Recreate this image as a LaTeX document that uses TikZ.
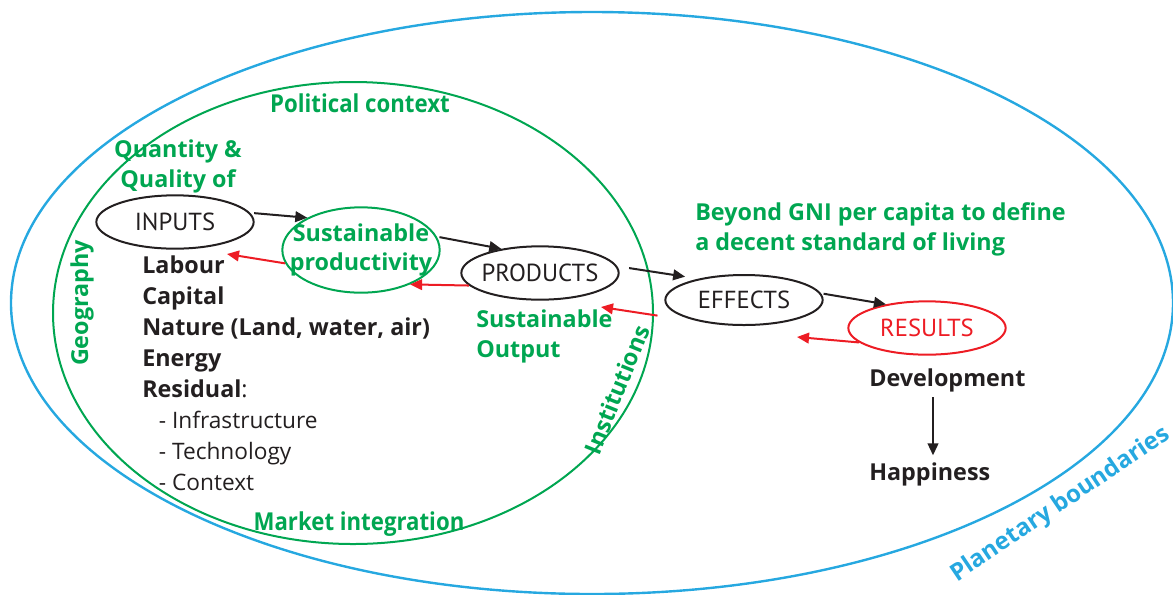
\documentclass[tikz,border=0pt]{standalone}
\usepackage{fontspec}
\setmainfont{Open Sans}
\newfontfamily\narrowfont[FakeStretch=0.9]{Open Sans}
\newfontfamily\stagefont{PT Sans}
\usetikzlibrary{shapes.geometric,arrows.meta}

\definecolor{leafgreen}{RGB}{0,166,81}
\definecolor{skyblue}{RGB}{38,168,224}
\definecolor{alertred}{RGB}{237,28,36}
\definecolor{inkblack}{RGB}{35,31,32}

\tikzset{
  stage/.style={ellipse, draw=inkblack, line width=1.5pt, inner xsep=-8pt, inner ysep=0pt,
    minimum width=118pt, minimum height=40pt, text=inkblack, font=\fontsize{18.5}{22}\stagefont},
  greentext/.style={text=leafgreen, inner sep=0pt, font=\fontsize{17.5}{22.5}\selectfont\bfseries},
  blacktext/.style={text=inkblack, inner sep=0pt, font=\fontsize{17.5}{23.25}\selectfont\bfseries},
  flow/.style={draw=inkblack, line width=1.5pt, -{Triangle[length=9pt,width=8pt]}},
  feedback/.style={draw=alertred, line width=1.5pt, -{Triangle[length=9pt,width=8pt]}}
}

\begin{document}
\begin{tikzpicture}[x=0.75pt, y=-0.75pt]
\useasboundingbox (0,0) rectangle (1173,594);

\draw[skyblue, line width=1.8pt] (592,303) ellipse (581 and 291);
\draw[leafgreen, line width=1.5pt] (353,313) ellipse (300 and 231);

\node[greentext, font=\fontsize{18.5}{22}\narrowfont\bfseries, anchor=base] (political) at (360,112) {Political context};
\node[greentext, font=\fontsize{18.5}{22}\narrowfont\bfseries, anchor=base] (market) at (359,530) {Market integration};
\node[greentext, rotate=90, anchor=base] (geography) at (88,303) {Geography};
\node[greentext, rotate=68, anchor=base] (institutions) at (625,393) {Institutions};
\node[greentext, text=skyblue, font=\fontsize{18}{22}\selectfont\bfseries, rotate=34, anchor=base] (planetary) at (1064,510) {Planetary boundaries};

\node[greentext, align=center, anchor=north] (quantity) at (178,139) {Quantity \&\\Quality of};
\node[stage] (inputs) at (175,222) {INPUTS};
\node[stage, draw=leafgreen, minimum height=64pt, inner xsep=-12pt, text=leafgreen,
  font=\fontsize{17.5}{22}\selectfont\bfseries, align=center] (sustprod) at (361,250) {Sustainable\\productivity};
\node[stage] (products) at (540,273) {PRODUCTS};
\node[stage, minimum height=37.5pt] (effects) at (744,300) {EFFECTS};
\node[stage, draw=alertred, text=alertred] (results) at (927,328) {RESULTS};

\node[blacktext, align=left, anchor=north west] (factors) at (142,255)
  {Labour\\Capital\\Nature (Land, water, air)\\Energy\\Residual{\mdseries :}\\
   {\mdseries\fontsize{17}{23.25}\selectfont\hspace{12.5pt}- Infrastructure}\\
   {\mdseries\fontsize{17}{23.25}\selectfont\hspace{12.5pt}- Technology}\\
   {\mdseries\fontsize{17}{23.25}\selectfont\hspace{12.5pt}- Context}};
\node[greentext, align=left, anchor=north west] (output) at (476,309) {Sustainable\\Output};
\node[greentext, align=left, anchor=north west] (beyond) at (695,202)
  {Beyond GNI per capita to define\\a decent standard of living};
\node[blacktext, anchor=base west] (development) at (869,386) {Development};
\node[blacktext, anchor=base west] (happiness) at (869,480) {Happiness};

\coordinate (labourtip) at (227,254);
\coordinate (outputtip) at (601,307);
\coordinate (effectstip) at (797,337);

\draw[flow, shorten <=3pt] (inputs.7) -- (sustprod.149);
\draw[flow, shorten <=2pt] (sustprod.10) -- (products.148);
\draw[flow, shorten <=9pt, shorten >=10pt] (products.5) -- (effects.155);
\draw[flow, shorten <=2pt] (effects.5) -- (results.150);
\draw[flow, shorten <=4pt, shorten >=5pt] ([xshift=48pt]development.south west) -- ([xshift=48pt]happiness.north west);

\draw[feedback] (sustprod.190) -- (labourtip);
\draw[feedback] (products.190) -- (sustprod.-35);
\draw[feedback] ([shift={(-10pt,-4pt)}]effects.188) -- (outputtip);
\draw[feedback] (results.192) -- (effectstip);

\end{tikzpicture}
\end{document}
